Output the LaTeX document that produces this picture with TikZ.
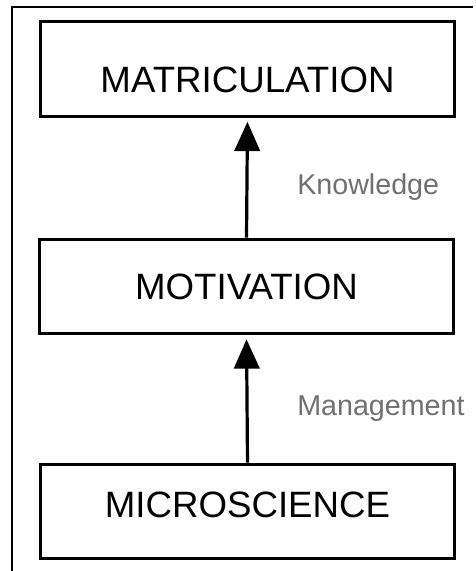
\documentclass[tikz,border=0pt]{standalone}
\usepackage{fontspec}
\setmainfont{Liberation Sans}
\usepackage{xcolor}
\usetikzlibrary{arrows.meta}
\definecolor{labgray}{RGB}{112,112,112}

\tikzset{
    stagebox/.style={draw,line width=2.2pt,rectangle,minimum width=311pt,minimum height=71pt,
        inner sep=0pt,text height=19.7pt,text depth=0pt,font=\fontsize{27.5}{31}\selectfont},
    uparrow/.style={line width=2.4pt,-{Triangle[length=22pt,width=19pt]},shorten >=3pt},
    steplabel/.style={anchor=base west,text=labgray,inner sep=0pt,font=\fontsize{21.5}{25}\selectfont}
}

\begin{document}
\begin{tikzpicture}[x=0.75pt,y=-0.75pt]
    \useasboundingbox (0,0) rectangle (475,571);
    % frame
    \draw[line width=1.3pt] (12,571) -- (12,7) -- (473,7);
    % stages
    \node[stagebox,text height=35pt] (matric) at (247.5,69) {MATRICULATION};
    \node[stagebox] (motiv) at (246.5,286.5) {MOTIVATION};
    \node[stagebox,text depth=10.5pt] (micro) at (247.5,511.5) {MICROSCIENCE};
    % links
    \draw[uparrow] (micro.north) -- (motiv.south);
    \draw[uparrow] (motiv.north) -- (matric.south);
    \node[steplabel] (know) at (297,194) {Knowledge};
    \node[steplabel] (manage) at (297,415) {Management};
\end{tikzpicture}
\end{document}
